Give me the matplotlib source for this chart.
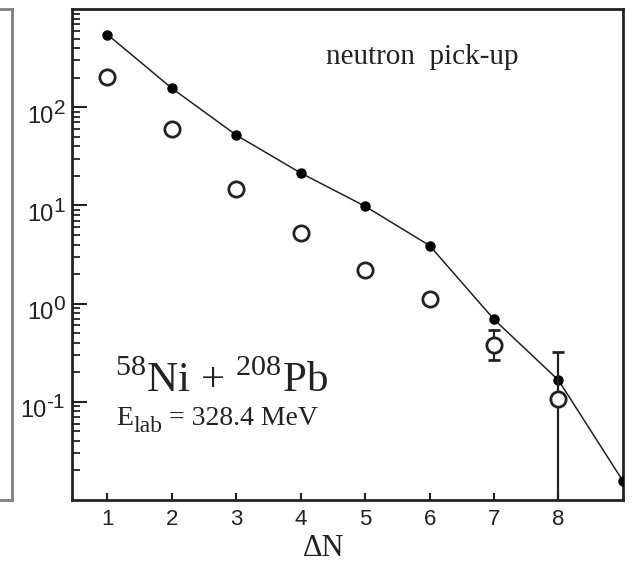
import numpy as np
import matplotlib
matplotlib.use("Agg")
import matplotlib.pyplot as plt
from matplotlib.ticker import FixedLocator, LogLocator, NullFormatter
from matplotlib.transforms import offset_copy, blended_transform_factory

plt.rcParams['mathtext.fontset'] = 'custom'
plt.rcParams['mathtext.rm'] = 'Liberation Serif'
plt.rcParams['font.family'] = 'Liberation Sans'

# calculation (line with dots)
calc_dn = [1, 2, 3, 4, 5, 6, 7, 8, 9]
calc_sigma = [550, 156, 52, 21.4, 9.8, 3.9, 0.69, 0.166, 0.0156]

# experiment (open circles)
exp_dn = [1, 2, 3, 4, 5, 6, 7, 8]
exp_sigma = [202, 60, 14.7, 5.25, 2.2, 1.12, 0.375, 0.106]
exp_err_lo = [0, 0, 0, 0, 0, 0, 0.111, 0.1055]
exp_err_hi = [0, 0, 0, 0, 0, 0, 0.170, 0.212]

xticks = [1, 2, 3, 4, 5, 6, 7, 8]
yticks = [1e-1, 1e0, 1e1, 1e2]
ytick_exps = ['-1', '0', '1', '2']

fig = plt.figure(figsize=(6.35, 5.63), dpi=100)
ax = fig.add_axes([0.1134, 0.1119, 0.8676, 0.872])

# piece of neighbouring panel at the left edge
ax0 = fig.add_axes([-0.1, 0.1119, 0.1 + 12 / 635, 0.872])
ax0.set_xticks([])
ax0.set_yticks([])
for s in ax0.spines.values():
    s.set_color('#808080')
    s.set_linewidth(2)


def rich_text(x, y, pieces, transform, family, ha='left'):
    # pieces: (text, fontsize, raise in points), laid out left to right
    r = fig.canvas.get_renderer()
    widths = []
    for s, size, dy in pieces:
        t = fig.text(0, 0, s, fontsize=size, family=family)
        widths.append(t.get_window_extent(r).width * 72 / fig.dpi)
        t.remove()
    total = sum(widths)
    dx = {'left': 0, 'right': -total, 'center': -total / 2}[ha]
    for (s, size, dy), w in zip(pieces, widths):
        tr = offset_copy(transform, fig=fig, x=dx, y=dy, units='points')
        ax.text(x, y, s, fontsize=size, family=family, transform=tr,
                ha='left', va='baseline', clip_on=False, color='#222222')
        dx += w


ax.plot(calc_dn, calc_sigma, '-', color='#222222', lw=1.1,
        marker='o', ms=6.5, mfc='black', mec='black', zorder=3)

ax.errorbar(exp_dn, exp_sigma, yerr=[exp_err_lo, exp_err_hi], fmt='o',
            ms=11, mfc='white', mec='#222222', mew=2, ecolor='#222222',
            elinewidth=1.6, capsize=4.5, capthick=1.6, zorder=4)

ax.set_yscale('log')
ax.set_xlim(0.45, 9.0)
ax.set_ylim(0.01, 1000)

ax.xaxis.set_major_locator(FixedLocator(xticks))
ax.set_xticklabels([str(t) for t in xticks])
ax.yaxis.set_major_locator(FixedLocator(yticks))
ax.yaxis.set_major_formatter(NullFormatter())
ax.yaxis.set_minor_locator(LogLocator(base=10, subs=np.arange(2, 10), numticks=20))
ax.yaxis.set_minor_formatter(NullFormatter())

ax.tick_params(axis='y', which='major', direction='in', length=10.6, width=1.5,
               colors='#222222')
ax.tick_params(axis='y', which='minor', direction='in', length=5.8, width=1.3,
               colors='#222222')
ax.tick_params(axis='x', which='major', direction='in', length=5, width=1.5,
               labelsize=16, pad=6.5, colors='#222222')
for s in ax.spines.values():
    s.set_linewidth(2)
    s.set_color('#222222')

# y tick labels 10^n
ytrans = blended_transform_factory(ax.transAxes, ax.transData)
ytrans = offset_copy(ytrans, fig=fig, x=-5, y=-11, units='points')
for v, e in zip(yticks, ytick_exps):
    rich_text(0, v, [('10', 17, 0), (e, 15, 6.5)], ytrans, 'Liberation Sans', ha='right')

ax.text(0.457, -0.114, 'ΔN', transform=ax.transAxes, ha='center', va='baseline',
        fontsize=22, family='Liberation Serif', color='#222222')

ax.text(0.635, 0.888, 'neutron  pick-up', transform=ax.transAxes, ha='center',
        va='baseline', fontsize=21, family='Liberation Serif', color='#222222')
ax.text(0.078, 0.22, r'$^{58}$Ni + $^{208}$Pb', transform=ax.transAxes,
        fontsize=31, family='Liberation Serif', ha='left', va='baseline',
        color='#222222')
rich_text(0.08, 0.153, [('E', 20, 0), ('lab', 17, -5), (' = 328.4 MeV', 20, 0)],
          ax.transAxes, 'Liberation Serif')

fig.savefig('out.png', dpi=100)
